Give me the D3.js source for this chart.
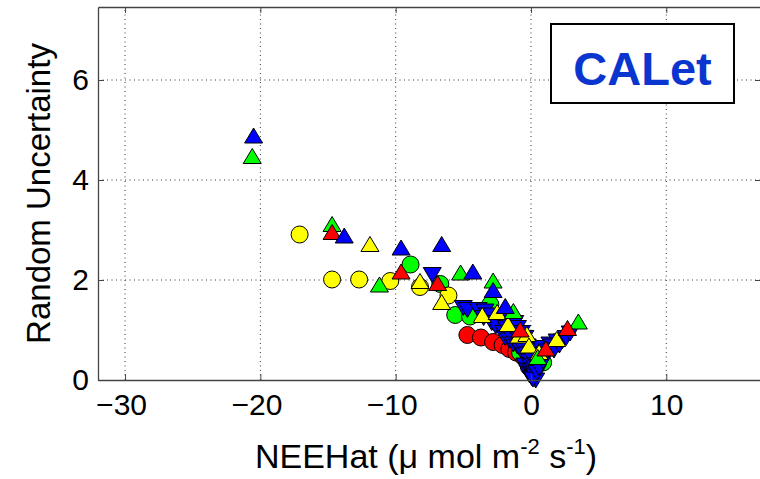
<!DOCTYPE html>
<html>
<head>
<meta charset="utf-8">
<script src="https://cdn.jsdelivr.net/npm/d3@7"></script>
<style>
  html, body { margin: 0; padding: 0; background: #fff; }
  svg { display: block; }
  text { font-family: "Liberation Sans", Arial, sans-serif; }
</style>
</head>
<body>
<svg id="chart" width="760" height="479"></svg>
<script>
// ---- data ----
const xTicks = [-30, -20, -10, 0, 10];
const yTicks = [0, 2, 4, 6];
const xDomain = [-32, 17];
const yDomain = [0, 7.46];
const xLabel = "NEEHat (\u03bc mol m";
const yLabel = "Random Uncertainty";
const legendText = "CALet";

const redCircles = [[-4.7,0.90],[-3.7,0.85],[-2.8,0.76],[-2.1,0.70],[-1.6,0.62],[-1.1,0.55],[-0.6,0.47],[-0.3,0.36],[-0.15,0.26]];
const greenCircles = [[-8.9,2.31],[-6.7,1.92],[-5.6,1.30],[-4.5,1.27],[-3.0,1.51],[-2.2,1.20],[-0.8,0.55],[0.9,0.35]];
const yellowCircles = [[-17.1,2.91],[-14.7,2.01],[-12.7,2.01],[-10.4,1.98],[-8.2,1.86],[-6.1,1.69]];
const blueDown = [[-7.3,2.11],[-5.0,1.45],[-4.7,1.41],[-3.9,1.41],[-3.4,1.38],[-3.5,1.25],[-3.2,1.30],[-2.9,1.15],[-2.6,1.08],[-2.2,1.22],[-2.0,0.95],[-1.9,0.85],[-1.8,1.05],[-1.6,0.80],[-1.5,1.08],[-1.4,0.85],[-1.3,0.72],[-1.2,1.15],[-1.15,0.95],[-1.0,1.05],[-1.0,0.68],[-0.9,0.82],[-0.75,0.60],[-0.7,0.95],[-0.65,0.81],[-0.6,0.65],[-0.5,0.50],[-0.45,0.85],[-0.45,0.30],[-0.28,0.68],[-0.3,0.52],[-0.25,0.20],[-0.1,0.38],[-0.1,0.10],[0.0,0.48],[0.0,0.28],[-0.05,0.18],[0.05,0.05],[0.1,0.14],[0.2,0.20],[0.25,0.12],[0.3,0.08],[0.35,0.0],[0.15,0.02],[0.2,0.30],[0.3,0.55],[0.4,0.30],[0.45,0.15],[0.55,0.60],[0.6,0.25],[0.7,0.48],[0.8,0.65],[0.9,0.38],[1.0,0.52],[1.2,0.58],[1.4,0.72],[1.57,0.68],[1.7,0.60],[1.93,0.78],[2.1,0.70],[2.3,0.78],[2.6,0.85],[2.9,0.94]];
const greenUp = [[-20.6,4.47],[-14.7,3.11],[-11.2,1.90],[-5.2,2.14],[-2.8,1.98],[-1.3,1.37],[3.5,1.16],[0.5,0.45]];
const redUp = [[-14.7,2.95],[-9.6,2.16],[-6.9,1.93],[-0.8,1.00],[1.1,0.62],[2.7,1.03]];
const blueUp = [[-20.5,4.88],[-13.8,2.88],[-9.6,2.64],[-6.6,2.71],[-4.3,2.16],[-2.8,1.79],[-1.9,1.47]];
const yellowUp = [[-11.9,2.71],[-8.2,1.97],[-6.6,1.55],[-3.6,1.29],[-2.5,1.35],[-1.7,1.11],[-0.9,0.88],[-0.3,0.91],[-0.15,0.68],[0.6,0.55],[1.9,0.81]];

// ---- layout ----
const svg = d3.select("#chart");
const L = 98, R = 761, T = 7, B = 380;
const x = d3.scaleLinear().domain(xDomain).range([L, R]);
const y = d3.scaleLinear().domain(yDomain).range([B, T]);
const axisColor = "#444";

// grid
const grid = svg.append("g");
grid.selectAll("line.vg").data(xTicks).join("line")
  .attr("x1", d => x(d)).attr("x2", d => x(d)).attr("y1", B).attr("y2", T)
  .attr("stroke", "#333").attr("stroke-width", 1).attr("stroke-dasharray", "1,3.5");
grid.selectAll("line.hg").data(yTicks.filter(d => d > 0)).join("line")
  .attr("x1", L).attr("x2", R).attr("y1", d => y(d)).attr("y2", d => y(d))
  .attr("stroke", "#333").attr("stroke-width", 1).attr("stroke-dasharray", "1,3.5");

// markers
const triUp = "M0,-8 L9,7 L-9,7 Z";
const triDown = "M0,8 L9,-7 L-9,-7 Z";
const marks = svg.append("g");
function circles(data, color) {
  marks.append("g").selectAll("circle").data(data).join("circle")
    .attr("cx", d => x(d[0])).attr("cy", d => y(d[1])).attr("r", 8.5)
    .attr("fill", color).attr("stroke", "#000").attr("stroke-width", 1);
}
function tris(data, color, path) {
  marks.append("g").selectAll("path").data(data).join("path")
    .attr("d", path)
    .attr("transform", d => `translate(${x(d[0])},${y(d[1])})`)
    .attr("fill", color).attr("stroke", "#000").attr("stroke-width", 1).attr("stroke-linejoin", "miter");
}
circles(redCircles, "#ff0000");
circles(greenCircles, "#00ff00");
circles(yellowCircles, "#ffff00");
tris(blueDown, "#0000ff", triDown);
tris(yellowUp, "#ffff00", triUp);
tris(greenUp, "#00ff00", triUp);
tris(redUp, "#ff0000", triUp);
tris(blueUp, "#0000ff", triUp);

// axes
const fmt = d => (d < 0 ? "\u2212" + Math.abs(d) : String(d));
const gx = svg.append("g").attr("transform", `translate(0,${B})`)
  .call(d3.axisBottom(x).tickValues(xTicks).tickFormat(fmt).tickSizeInner(-6).tickSizeOuter(0).tickPadding(14));
const gxTop = svg.append("g").attr("transform", `translate(0,${T})`)
  .call(d3.axisTop(x).tickValues(xTicks).tickFormat("").tickSizeInner(-6).tickSizeOuter(0));
const gy = svg.append("g").attr("transform", `translate(${L},0)`)
  .call(d3.axisLeft(y).tickValues(yTicks).tickFormat(fmt).tickSizeInner(-6).tickSizeOuter(0).tickPadding(9));
const gyR = svg.append("g").attr("transform", `translate(${R},0)`)
  .call(d3.axisRight(y).tickValues(yTicks).tickFormat("").tickSizeInner(-6).tickSizeOuter(0));
[gx, gxTop, gy, gyR].forEach(g => {
  g.select(".domain").attr("stroke", axisColor).attr("stroke-width", 1.3);
  g.selectAll(".tick line").attr("stroke", axisColor);
  g.selectAll("text").attr("font-size", 30).attr("fill", "#000")
    .attr("font-family", "'Liberation Sans', Arial, sans-serif");
});
gx.selectAll("text").attr("dy", "0.71em").attr("dx", d => (d < 0 ? -4 : 0));

// axis labels
const xl = svg.append("text").attr("x", 426).attr("y", 468).attr("text-anchor", "middle")
  .attr("font-size", 34).attr("fill", "#000");
xl.append("tspan").text(xLabel);
xl.append("tspan").attr("font-size", 22).attr("dy", -14).text("-2");
xl.append("tspan").attr("dy", 14).text(" s");
xl.append("tspan").attr("font-size", 22).attr("dy", -14).text("-1");
xl.append("tspan").attr("dy", 14).text(")");

svg.append("text").attr("transform", `translate(50,${(T + B) / 2}) rotate(-90)`)
  .attr("text-anchor", "middle").attr("font-size", 33).attr("fill", "#000").text(yLabel);

// legend box
svg.append("rect").attr("x", 551).attr("y", 24).attr("width", 183).attr("height", 79)
  .attr("fill", "#fff").attr("stroke", "#000").attr("stroke-width", 2);
svg.append("text").attr("x", 642.5).attr("y", 85).attr("text-anchor", "middle")
  .attr("font-size", 47).attr("font-weight", "bold").attr("fill", "#0a35cf").text(legendText);
</script>
</body>
</html>
